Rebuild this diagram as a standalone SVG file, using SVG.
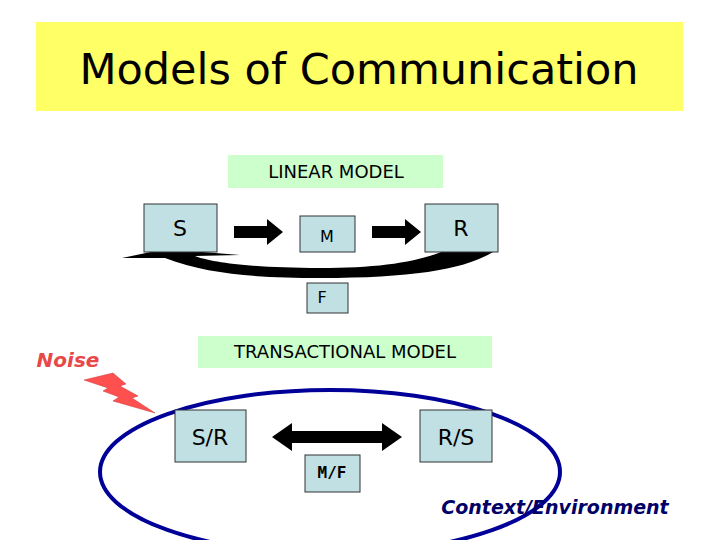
<svg xmlns="http://www.w3.org/2000/svg" width="720" height="540" viewBox="0 0 720 540">
<style>
.b{fill:#c0e0e4;stroke:#333;stroke-width:1}
.t{font-family:"DejaVu Sans",Verdana,sans-serif;fill:#000}
</style>
<rect width="720" height="540" fill="#fff"/>
<g id="title"><rect x="36" y="22" width="647" height="89" fill="#ffff66"/>
<text class="t" x="359" y="84" font-size="43" text-anchor="middle">Models of Communication</text></g>
<g id="linear"><rect x="228" y="155" width="215" height="33" fill="#ccffcc"/>
<text class="t" x="336" y="178" font-size="18" text-anchor="middle">LINEAR MODEL</text></g>
<g id="connectors">
<polygon points="234,226 267,226 267,219 283,232 267,245 267,238 234,238" fill="#000"/>
<polygon points="372,226 405,226 405,219 421,232 405,245 405,238 372,238" fill="#000"/>
<path d="M498,249 L448,249 C420,262 380,268 320,268 C250,268 210,262 195,256 L240,255 L165,249 L122,258 L165,258 C210,275 260,278 320,278 C420,278 470,268 498,249 Z" fill="#000"/>
<polygon points="272,437 292,423 292,431 382,431 382,423 402,437 382,451 382,443 292,443 292,451" fill="#000"/>
<ellipse cx="330" cy="472" rx="230" ry="82" fill="none" stroke="#000099" stroke-width="4"/>
<polygon points="84,380 113,373 126,384 120,386 138,396 132,398 155,413 113,401 119,397 103,391 108,388" fill="#ff5050" stroke="#cc3333" stroke-width="0.5"/>
</g>
<g id="S"><rect class="b" x="144" y="204" width="73" height="48"/><text class="t" x="180" y="236" font-size="22" text-anchor="middle">S</text></g>
<g id="M"><rect class="b" x="300" y="216" width="55" height="36"/><text class="t" x="327" y="242" font-size="16" text-anchor="middle">M</text></g>
<g id="R"><rect class="b" x="425" y="204" width="73" height="48"/><text class="t" x="461" y="236" font-size="22" text-anchor="middle">R</text></g>
<g id="F"><rect class="b" x="307" y="283" width="41" height="30"/><text class="t" x="322" y="303" font-size="16" text-anchor="middle">F</text></g>
<g id="noise"><text x="68" y="367" font-family="'DejaVu Sans',Verdana,sans-serif" font-size="20" font-weight="bold" font-style="italic" fill="#e84848" text-anchor="middle">Noise</text></g>
<g id="trans"><rect x="198" y="336" width="294" height="32" fill="#ccffcc"/>
<text class="t" x="345" y="358" font-size="18" text-anchor="middle">TRANSACTIONAL MODEL</text></g>
<g id="SR"><rect class="b" x="175" y="410" width="71" height="52"/><text class="t" x="210" y="445" font-size="22" text-anchor="middle">S/R</text></g>
<g id="RS"><rect class="b" x="420" y="410" width="72" height="52"/><text class="t" x="456" y="445" font-size="22" text-anchor="middle">R/S</text></g>
<g id="MF"><rect class="b" x="305" y="455" width="55" height="37"/><text x="332" y="478" font-family="'DejaVu Sans Mono',monospace" font-size="16" font-weight="bold" text-anchor="middle">M/F</text></g>
<g id="context"><text x="555" y="514" font-family="'DejaVu Sans',Verdana,sans-serif" font-size="19" font-weight="bold" font-style="italic" fill="#000066" text-anchor="middle">Context/Environment</text></g>
</svg>
